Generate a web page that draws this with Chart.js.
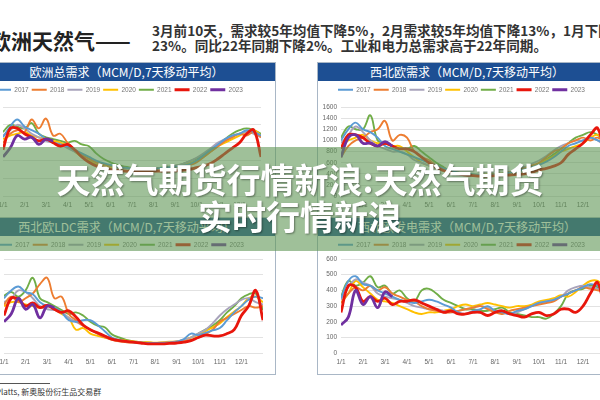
<!DOCTYPE html>
<html>
<head>
<meta charset="utf-8">
<script src="https://cdn.jsdelivr.net/npm/chart.js@4.4.0/dist/chart.umd.min.js"></script>
<style>
    body { margin: 0; width: 600px; height: 400px; overflow: hidden; position: relative; background: #fff; font-family: "Noto Sans CJK SC", sans-serif; }
    .head { position: absolute; left: -10px; top: 28px; font-size: 21px; font-weight: bold; color: #222; line-height: 24px; white-space: nowrap; }
    .note { position: absolute; left: 152px; top: 23px; font-size: 13.6px; font-weight: bold; color: #333; line-height: 15px; white-space: nowrap; }
    .panel { position: absolute; border: 1px solid #a9b7c6; background: #fff; }
    .bar { height: 18px; background: #1d4f93; color: #fff; font-size: 12px; line-height: 18px; text-align: center; white-space: nowrap; }
    canvas { display: block; }
    .banner { position: absolute; left: 0; top: 147px; width: 600px; height: 104px; background: rgba(95, 150, 85, 0.6); }
    .banner div { position: absolute; width: 600px; text-align: center; color: #fff; font-size: 34px; font-weight: bold; line-height: 36px; text-shadow: 1px 1px 2px rgba(0, 0, 0, 0.4); }
    .src_line { position: absolute; left: 0; top: 383px; width: 50px; border-top: 1px solid #555; }
    .src { position: absolute; left: -4px; top: 386px; font-size: 8px; color: #333; white-space: nowrap; }
</style>
</head>
<body>
<div class="head">欧洲天然气——</div>
<div class="note">3月前10天，需求较5年均值下降5%，2月需求较5年均值下降13%，1月下降<br>23%。同比22年同期下降2%。工业和电力总需求高于22年同期。</div>

<div class="panel" style="left:-23px; top:62px; width:297px;">
    <div class="bar">欧洲总需求（MCM/D,7天移动平均）</div>
    <canvas id="chart_eu" width="297" height="136"></canvas>
</div>
<div class="panel" style="left:317px; top:62px; width:298px;">
    <div class="bar">西北欧需求（MCM/D,7天移动平均）</div>
    <canvas id="chart_nwe" width="298" height="136"></canvas>
</div>
<div class="panel" style="left:-23px; top:217px; width:297px;">
    <div class="bar">西北欧LDC需求（MCM/D,7天移动平均）</div>
    <canvas id="chart_ldc" width="297" height="138"></canvas>
</div>
<div class="panel" style="left:317px; top:217px; width:298px;">
    <div class="bar">西北欧发电需求（MCM/D,7天移动平均）</div>
    <canvas id="chart_pwr" width="298" height="138"></canvas>
</div>

<div class="banner">
    <div style="top:14px;">天然气期货行情新浪:天然气期货</div>
    <div style="top:51px;">实时行情新浪</div>
</div>

<div class="src_line"></div>
<div class="src">Platts, 新奥股份衍生品交易群</div>

<script>
const years = ['2017', '2018', '2019', '2020', '2021', '2022', '2023'];
const months = ['1/1', '2/1', '3/1', '4/1', '5/1', '6/1', '7/1', '8/1', '9/1', '10/1', '11/1', '12/1'];
const colors = ['#5b9bd5', '#ed7d31', '#a8a3bb', '#ffc000', '#70ad47', '#e8160c', '#7030a0'];

// values every ~10 days (3 per month), 1/1 .. 12/31

// 欧洲总需求
const eu_2017 = [3300, 3900, 4300, 3900, 3700, 3500, 3200, 3000, 2900, 2800, 2600, 2400, 2200, 2000, 1850, 1750, 1650, 1600, 1550, 1550, 1550, 1550, 1580, 1620, 1650, 1700, 1800, 2000, 2300, 2600, 2900, 3200, 3400, 3500, 3700, 3600, 3400];
const eu_2018 = [3000, 3500, 3700, 3600, 4300, 3800, 4350, 3400, 3500, 3000, 2600, 2300, 2100, 1900, 1800, 1700, 1650, 1600, 1550, 1550, 1550, 1550, 1560, 1600, 1620, 1680, 1750, 1900, 2200, 2500, 2800, 3100, 3300, 3500, 3400, 3600, 3300];
const eu_2019 = [3400, 3700, 4000, 3800, 3500, 3300, 3100, 3000, 2900, 2700, 2500, 2300, 2100, 1900, 1800, 1700, 1600, 1550, 1500, 1500, 1500, 1520, 1550, 1600, 1700, 1800, 1950, 2150, 2400, 2700, 3000, 3200, 3400, 3500, 3600, 3500, 3300];
const eu_2020 = [3200, 3400, 3500, 3600, 3400, 3300, 3200, 3100, 3000, 2800, 2500, 2200, 2000, 1800, 1700, 1650, 1600, 1550, 1550, 1550, 1550, 1550, 1580, 1620, 1680, 1750, 1850, 2000, 2200, 2500, 2800, 3000, 3200, 3400, 3600, 3700, 3400];
const eu_2021 = [3600, 4000, 3900, 3800, 4100, 3500, 3300, 3200, 3100, 3000, 3100, 2900, 2800, 2400, 2100, 1900, 1750, 1650, 1600, 1550, 1550, 1550, 1600, 1650, 1700, 1800, 1950, 2100, 2300, 2600, 2900, 3200, 3500, 3700, 3800, 3700, 3500];
const eu_2022 = [2600, 3800, 3800, 3500, 3300, 3100, 3200, 3000, 2800, 2900, 2600, 2200, 1900, 1700, 1600, 1500, 1450, 1400, 1400, 1400, 1400, 1400, 1400, 1400, 1420, 1450, 1500, 1600, 1700, 1850, 2100, 2400, 2700, 3000, 3500, 3700, 2200];
const eu_2023 = [2200, 2700, 3400, 3200, 3300, 2900, 3200, 3100];

// 西北欧需求
const nwe_2017 = [1000, 1200, 1320, 1200, 1150, 1050, 900, 850, 800, 750, 700, 650, 600, 550, 500, 460, 420, 400, 390, 380, 380, 390, 400, 420, 450, 480, 520, 560, 620, 700, 800, 900, 950, 1000, 1050, 1000, 950];
const nwe_2018 = [700, 900, 1000, 1050, 1150, 1200, 1350, 1000, 1100, 1050, 800, 700, 650, 550, 500, 450, 420, 400, 380, 370, 380, 390, 400, 430, 460, 500, 550, 600, 700, 800, 850, 950, 1000, 1050, 1000, 1050, 950];
const nwe_2019 = [950, 1100, 1250, 1150, 1000, 900, 850, 800, 800, 750, 650, 600, 550, 500, 450, 420, 400, 380, 370, 370, 380, 390, 410, 440, 470, 520, 580, 640, 720, 820, 900, 950, 1000, 1000, 1050, 1000, 900];
const nwe_2020 = [900, 1000, 1050, 1100, 1000, 950, 950, 900, 900, 800, 700, 600, 550, 500, 450, 420, 400, 390, 380, 380, 390, 400, 410, 430, 450, 480, 520, 580, 650, 720, 800, 850, 900, 950, 1050, 1100, 1000];
const nwe_2021 = [1050, 1250, 1200, 1200, 1450, 1000, 950, 900, 850, 850, 900, 800, 700, 600, 520, 450, 420, 400, 390, 380, 380, 390, 400, 420, 440, 480, 530, 590, 660, 750, 850, 950, 1050, 1100, 1150, 1100, 1000];
const nwe_2022 = [850, 1100, 1100, 1050, 950, 900, 950, 900, 850, 850, 800, 700, 600, 520, 460, 420, 400, 380, 370, 360, 360, 370, 380, 380, 390, 400, 430, 470, 500, 540, 600, 750, 850, 950, 1100, 1220, 700];
const nwe_2023 = [700, 1050, 1100, 950, 950, 900, 980, 900];

// 西北欧LDC需求
const ldc_2017 = [700, 800, 850, 780, 750, 650, 600, 580, 520, 420, 400, 420, 420, 360, 280, 200, 170, 150, 140, 135, 130, 130, 130, 135, 145, 180, 250, 230, 260, 290, 320, 420, 520, 600, 680, 720, 700];
const ldc_2018 = [620, 720, 650, 700, 760, 880, 960, 700, 720, 500, 420, 350, 300, 250, 200, 170, 150, 140, 135, 130, 130, 130, 130, 135, 140, 150, 170, 200, 240, 300, 400, 450, 500, 550, 600, 580, 600];
const ldc_2019 = [650, 700, 800, 780, 700, 600, 560, 550, 520, 450, 400, 350, 300, 250, 220, 190, 160, 150, 140, 135, 130, 130, 135, 140, 150, 170, 200, 250, 300, 380, 480, 560, 620, 680, 700, 650, 620];
const ldc_2020 = [600, 650, 650, 620, 600, 580, 600, 560, 500, 450, 300, 320, 250, 220, 200, 180, 170, 160, 150, 140, 140, 135, 140, 145, 150, 170, 200, 230, 280, 330, 380, 460, 530, 600, 700, 720, 650];
const ldc_2021 = [730, 780, 720, 800, 960, 700, 650, 600, 550, 500, 520, 480, 400, 350, 330, 240, 200, 170, 150, 140, 135, 130, 130, 135, 150, 170, 200, 250, 300, 350, 420, 520, 600, 700, 750, 760, 550];
const ldc_2022 = [480, 700, 690, 600, 640, 580, 610, 560, 520, 540, 460, 360, 300, 260, 220, 180, 160, 150, 140, 130, 120, 120, 120, 125, 130, 140, 160, 200, 230, 220, 220, 250, 300, 480, 600, 800, 420];
const ldc_2023 = [400, 500, 700, 560, 620, 450, 600, 580];

// 西北欧发电需求
const pwr_2017 = [350, 460, 490, 440, 430, 400, 380, 360, 340, 330, 320, 330, 340, 330, 310, 290, 260, 250, 270, 280, 300, 270, 260, 250, 270, 280, 300, 320, 330, 340, 360, 380, 400, 420, 440, 430, 400];
const pwr_2018 = [320, 380, 420, 400, 430, 400, 420, 380, 360, 340, 330, 300, 280, 270, 260, 260, 270, 280, 290, 300, 280, 260, 250, 270, 280, 290, 300, 310, 320, 330, 360, 380, 400, 420, 410, 400, 390];
const pwr_2019 = [340, 420, 470, 450, 430, 380, 360, 350, 340, 320, 300, 290, 280, 280, 270, 260, 270, 280, 290, 300, 290, 270, 260, 250, 260, 280, 300, 320, 330, 340, 360, 400, 420, 430, 420, 410, 380];
const pwr_2020 = [320, 380, 460, 420, 380, 340, 330, 320, 300, 280, 260, 250, 260, 260, 270, 280, 300, 310, 300, 310, 320, 310, 300, 290, 300, 300, 310, 330, 340, 350, 370, 360, 390, 430, 460, 460, 420];
const pwr_2021 = [360, 460, 430, 450, 490, 420, 430, 380, 400, 350, 330, 400, 410, 380, 340, 320, 300, 280, 280, 270, 270, 280, 290, 260, 250, 240, 230, 230, 220, 250, 300, 380, 400, 410, 430, 420, 400];
const pwr_2022 = [260, 430, 420, 330, 360, 330, 350, 310, 330, 330, 340, 320, 300, 280, 260, 270, 250, 250, 260, 260, 240, 260, 270, 250, 240, 230, 250, 260, 240, 250, 280, 280, 260, 300, 380, 450, 250];
const pwr_2023 = [180, 230, 400, 310, 360, 290, 390, 360];

Chart.defaults.font.family = '"Liberation Sans", Arial, sans-serif';
Chart.defaults.font.size = 6.5;
Chart.defaults.color = '#666';

// adds room between the legend and the plot
const legend_gap = {
    id: 'legend_gap',
    beforeInit(chart) {
        const legend = chart.legend;
        if (!legend) return;
        const orig_fit = legend.fit;
        legend.fit = function () {
            orig_fit.bind(legend)();
            this.height += chart.options.plugins.legend_gap.extra;
        };
    }
};

function make_chart(canvas_id, series, y_max, y_step, axis_w, pad_right, gap) {
    const datasets = series.map((vals, k) => ({
        label: years[k],
        data: vals.map((v, i) => ({ x: i / 3, y: v })),
        borderColor: colors[k],
        backgroundColor: colors[k],
        borderWidth: k >= 5 ? 2.8 : 1.9,
        pointRadius: 0,
        tension: 0.4,
        order: k === 6 ? 0 : (k === 5 ? 1 : 2)
    }));

    return new Chart(document.getElementById(canvas_id), {
        type: 'line',
        data: { datasets: datasets },
        plugins: [legend_gap],
        options: {
            responsive: false,
            animation: false,
            layout: { padding: { top: 2.5, right: pad_right, bottom: 3, left: 0 } },
            scales: {
                x: {
                    type: 'linear',
                    min: 0,
                    max: 12,
                    grid: { display: false, drawTicks: false },
                    border: { display: false },
                    ticks: {
                        stepSize: 1,
                        padding: 5,
                        maxRotation: 0,
                        autoSkip: false,
                        callback: (v) => months[v] || ''
                    }
                },
                y: {
                    min: 0,
                    max: y_max,
                    grid: { color: '#e2e2e2', drawTicks: false },
                    border: { display: false },
                    ticks: { stepSize: y_step, padding: 4, autoSkip: false, callback: (v) => String(v) },
                    afterFit: (scale) => { scale.width = axis_w; }
                }
            },
            plugins: {
                legend_gap: { extra: gap },
                tooltip: { enabled: false },
                legend: {
                    labels: {
                        usePointStyle: true,
                        pointStyle: 'line',
                        pointStyleWidth: 15,
                        padding: 3,
                        color: '#777',
                        sort: (a, b) => a.datasetIndex - b.datasetIndex
                    }
                }
            }
        }
    });
}

make_chart('chart_eu', [eu_2017, eu_2018, eu_2019, eu_2020, eu_2021, eu_2022, eu_2023], 5000, 1000, 25, 14, 4);
make_chart('chart_nwe', [nwe_2017, nwe_2018, nwe_2019, nwe_2020, nwe_2021, nwe_2022, nwe_2023], 1600, 200, 23, 11, 4);
make_chart('chart_ldc', [ldc_2017, ldc_2018, ldc_2019, ldc_2020, ldc_2021, ldc_2022, ldc_2023], 1200, 200, 26, 12, 1);
make_chart('chart_pwr', [pwr_2017, pwr_2018, pwr_2019, pwr_2020, pwr_2021, pwr_2022, pwr_2023], 600, 100, 23, 11, 1);
</script>
</body>
</html>
